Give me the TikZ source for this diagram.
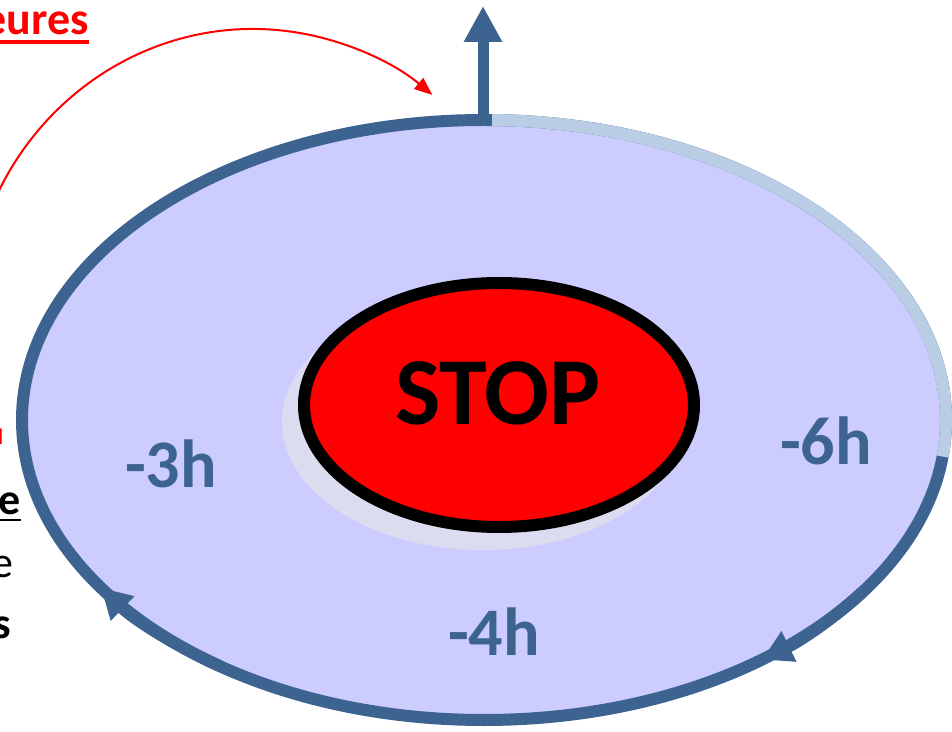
\documentclass[tikz,border=0pt]{standalone}
\usepackage{fontspec}
\setmainfont{Carlito}
\usetikzlibrary{arrows.meta,shapes.geometric,positioning}
\definecolor{ringblue}{HTML}{3D6391}
\definecolor{ringlight}{HTML}{B9CDE5}
\definecolor{ringfill}{HTML}{CCCCFF}
\definecolor{stopshadow}{HTML}{DCDCF0}
\tikzset{
	ring/.style={
		draw=ringblue,
		fill=ringfill,
		line width=12pt,
	},
	ringtip/.style={
		draw=ringblue,
		line width=12pt,
		-{Triangle[width=32pt,length=30pt]}
	},
	stopbtn/.style={
		ellipse,
		draw=black,
		fill=red,
		line width=12pt,
		minimum width=390pt,
		minimum height=244pt,
		inner sep=0pt
	},
	hour/.style={
		text=ringblue,
		font=\bfseries\fontsize{68}{68}\selectfont,
		anchor=base,
		inner sep=0pt
	},
	side/.style={
		font=\fontsize{44}{44}\selectfont,
		anchor=base east,
		inner sep=0pt
	},
	sidebold/.style={
		side,
		font=\bfseries\fontsize{44}{44}\selectfont
	}
}

\begin{document}
\begin{tikzpicture}[x=1pt,y=1pt]
	\useasboundingbox (0,0) rectangle (952,731);
	\clip (0,0) rectangle (952,731);
	% ring
	\coordinate (c) at (484,311);
	\draw[ring] (c) ellipse [x radius=462, y radius=300];
	\draw[ringlight,line width=12pt] ([shift={(89:462 and 300)}]c) arc [start angle=89, end angle=-7, x radius=462, y radius=300];
	\draw[ringtip] ([shift={(235:462 and 300)}]c) arc [start angle=235, end angle=214, x radius=462, y radius=300];
	\draw[ringtip] ([shift={(-35:462 and 300)}]c) arc [start angle=-35, end angle=-53, x radius=462, y radius=300];
	% exit upwards
	\coordinate (top) at (483,611);
	\coordinate (up) at (483,725);
	\draw[ringblue,line width=11pt,-{Triangle[width=36pt,length=36pt]}] (top) -- (up);
	% stop button
	\fill[stopshadow] (483,309) ellipse [x radius=201, y radius=128];
	\node[stopbtn] (stop) at (499,326) {};
	\node[anchor=base,inner sep=0pt,font=\bfseries\fontsize{96}{96}\selectfont] (stoptext) at (498,306) {STOP};
	% hours
	\node[hour] (h3) at (171,243) {-3h};
	\node[hour] (h6) at (826,266) {-6h};
	\node[hour] (h4) at (494,76) {-4h};
	% red arc
	\coordinate (bow) at (253,406);
	\draw[red,line width=2pt,-{Triangle[width=14pt,length=18pt]}] ([shift={(170:285 and 296)}]bow) arc [start angle=170, end angle=51, x radius=285, y radius=296];
	% cut texts on the left
	\node[sidebold,text=red,font=\bfseries\fontsize{46}{46}\selectfont] (eures) at (89,696) {eures};
	\draw[red,line width=4pt] ([yshift=-7pt]eures.base west) -- ([yshift=-7pt]eures.base east);
	\node[sidebold,text=red,font=\bfseries\fontsize{32}{32}\selectfont] (cut) at (4,286) {u};
	\node[sidebold] (e1) at (21,216) {e};
	\draw[line width=2pt] ([yshift=-5pt]e1.base west) -- ([yshift=-5pt]e1.base east);
	\node[side] (e2) at (14,154) {e};
	\node[sidebold] (s1) at (11,93) {s};
\end{tikzpicture}
\end{document}
